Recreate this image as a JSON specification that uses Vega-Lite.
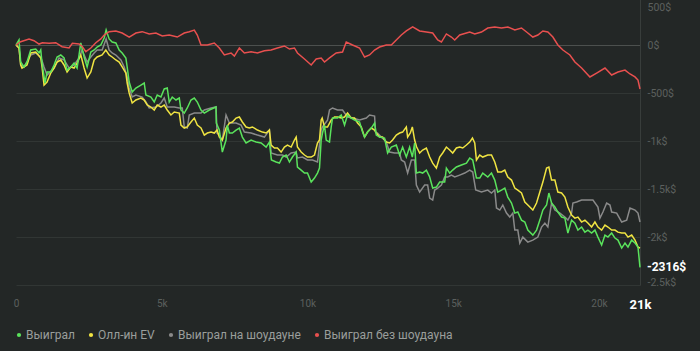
{
"$schema": "https://vega.github.io/schema/vega-lite/v6.json",
"width": 624, "height": 288,
"autosize": {"type": "none"},
"padding": {"left": 16, "top": -3, "right": 60, "bottom": 66},
"background": "#232726",
"config": {"view": {"stroke": null}, "font": "Roboto"},
"datasets": {
"green": [{"x":0,"v":0},{"x":103,"v":52},{"x":161,"v":-177},{"x":275,"v":-229},{"x":378,"v":-177},{"x":505,"v":-52},{"x":677,"v":-42},{"x":790,"v":-83},{"x":849,"v":-52},{"x":893,"v":-188},{"x":996,"v":-396},{"x":1065,"v":-281},{"x":1192,"v":-281},{"x":1306,"v":-208},{"x":1409,"v":-125},{"x":1536,"v":-104},{"x":1649,"v":-135},{"x":1752,"v":-261},{"x":1879,"v":-229},{"x":1993,"v":-188},{"x":2096,"v":-240},{"x":2223,"v":21},{"x":2336,"v":-125},{"x":2440,"v":-229},{"x":2567,"v":-73},{"x":2680,"v":-52},{"x":2783,"v":-21},{"x":2910,"v":0},{"x":3024,"v":73},{"x":3092,"v":156},{"x":3195,"v":63},{"x":3299,"v":31},{"x":3426,"v":21},{"x":3539,"v":-52},{"x":3642,"v":-83},{"x":3769,"v":-135},{"x":3814,"v":-229},{"x":3883,"v":-386},{"x":3986,"v":-490},{"x":4113,"v":-448},{"x":4285,"v":-417},{"x":4398,"v":-396},{"x":4456,"v":-521},{"x":4628,"v":-542},{"x":4742,"v":-594},{"x":4845,"v":-521},{"x":4972,"v":-542},{"x":5085,"v":-458},{"x":5188,"v":-448},{"x":5257,"v":-594},{"x":5360,"v":-542},{"x":5487,"v":-573},{"x":5601,"v":-552},{"x":5659,"v":-677},{"x":5772,"v":-709},{"x":5875,"v":-656},{"x":6003,"v":-573},{"x":6116,"v":-552},{"x":6219,"v":-594},{"x":6346,"v":-677},{"x":6460,"v":-709},{"x":6632,"v":-677},{"x":6862,"v":-646},{"x":6872,"v":-813},{"x":6975,"v":-886},{"x":7078,"v":-1115},{"x":7205,"v":-990},{"x":7250,"v":-834},{"x":7319,"v":-917},{"x":7422,"v":-917},{"x":7549,"v":-886},{"x":7662,"v":-865},{"x":7765,"v":-959},{"x":7892,"v":-1021},{"x":8064,"v":-990},{"x":8236,"v":-1011},{"x":8408,"v":-1021},{"x":8580,"v":-1063},{"x":8693,"v":-1011},{"x":8762,"v":-1198},{"x":8923,"v":-1219},{"x":9037,"v":-1230},{"x":9140,"v":-1167},{"x":9267,"v":-1146},{"x":9380,"v":-1219},{"x":9484,"v":-1167},{"x":9611,"v":-1115},{"x":9655,"v":-1271},{"x":9782,"v":-1303},{"x":9896,"v":-1334},{"x":9999,"v":-1334},{"x":10126,"v":-1428},{"x":10239,"v":-1386},{"x":10342,"v":-1334},{"x":10411,"v":-1282},{"x":10469,"v":-990},{"x":10514,"v":-917},{"x":10583,"v":-834},{"x":10641,"v":-990},{"x":10755,"v":-1011},{"x":10813,"v":-854},{"x":10858,"v":-761},{"x":11030,"v":-761},{"x":11157,"v":-729},{"x":11270,"v":-834},{"x":11373,"v":-729},{"x":11500,"v":-761},{"x":11614,"v":-782},{"x":11785,"v":-802},{"x":11889,"v":-907},{"x":11957,"v":-959},{"x":12060,"v":-907},{"x":12188,"v":-865},{"x":12301,"v":-813},{"x":12359,"v":-938},{"x":12473,"v":-959},{"x":12644,"v":-969},{"x":12748,"v":-1125},{"x":12875,"v":-1063},{"x":13046,"v":-1042},{"x":13160,"v":-1146},{"x":13263,"v":-1063},{"x":13390,"v":-1167},{"x":13503,"v":-1063},{"x":13596,"v":-1167},{"x":13675,"v":-1021},{"x":13734,"v":-1334},{"x":13847,"v":-1323},{"x":13950,"v":-1334},{"x":14077,"v":-1303},{"x":14191,"v":-1375},{"x":14294,"v":-1490},{"x":14421,"v":-1480},{"x":14534,"v":-1428},{"x":14706,"v":-1428},{"x":14764,"v":-1282},{"x":14878,"v":-1334},{"x":14981,"v":-1303},{"x":15108,"v":-1271},{"x":15280,"v":-1250},{"x":15452,"v":-1230},{"x":15565,"v":-1177},{"x":15668,"v":-1198},{"x":15795,"v":-1386},{"x":15909,"v":-1386},{"x":16012,"v":-1334},{"x":16184,"v":-1375},{"x":16311,"v":-1334},{"x":16424,"v":-1407},{"x":16527,"v":-1532},{"x":16654,"v":-1511},{"x":16768,"v":-1490},{"x":16871,"v":-1584},{"x":16998,"v":-1646},{"x":17111,"v":-1751},{"x":17214,"v":-1740},{"x":17341,"v":-1824},{"x":17455,"v":-1844},{"x":17558,"v":-1928},{"x":17730,"v":-1980},{"x":17857,"v":-1928},{"x":17970,"v":-1824},{"x":18074,"v":-1719},{"x":18201,"v":-1667},{"x":18280,"v":-1542},{"x":18372,"v":-1646},{"x":18486,"v":-1688},{"x":18589,"v":-1740},{"x":18716,"v":-1792},{"x":18829,"v":-1803},{"x":18932,"v":-1959},{"x":19059,"v":-1824},{"x":19173,"v":-1855},{"x":19276,"v":-1928},{"x":19403,"v":-1896},{"x":19516,"v":-1949},{"x":19619,"v":-1928},{"x":19746,"v":-1959},{"x":19860,"v":-1928},{"x":19963,"v":-2001},{"x":20090,"v":-2084},{"x":20204,"v":-1980},{"x":20307,"v":-2001},{"x":20434,"v":-1959},{"x":20547,"v":-2011},{"x":20650,"v":-2032},{"x":20778,"v":-2115},{"x":20891,"v":-2063},{"x":20994,"v":-2105},{"x":21121,"v":-2032},{"x":21234,"v":-2063},{"x":21337,"v":-2105},{"x":21406,"v":-2316}],
"yellow": [{"x":0,"v":0},{"x":103,"v":-31},{"x":161,"v":-208},{"x":206,"v":-240},{"x":378,"v":-208},{"x":505,"v":-83},{"x":677,"v":-73},{"x":849,"v":-135},{"x":893,"v":-229},{"x":962,"v":-417},{"x":1065,"v":-386},{"x":1192,"v":-292},{"x":1306,"v":-240},{"x":1409,"v":-177},{"x":1536,"v":-156},{"x":1649,"v":-208},{"x":1752,"v":-281},{"x":1879,"v":-229},{"x":1993,"v":-240},{"x":2096,"v":-188},{"x":2223,"v":-104},{"x":2336,"v":-240},{"x":2440,"v":-344},{"x":2567,"v":-281},{"x":2680,"v":-156},{"x":2783,"v":-125},{"x":2955,"v":-104},{"x":3082,"v":-52},{"x":3195,"v":-104},{"x":3299,"v":-125},{"x":3426,"v":-156},{"x":3539,"v":-177},{"x":3642,"v":-229},{"x":3769,"v":-292},{"x":3814,"v":-396},{"x":3883,"v":-500},{"x":3986,"v":-604},{"x":4113,"v":-573},{"x":4285,"v":-552},{"x":4398,"v":-573},{"x":4501,"v":-625},{"x":4628,"v":-646},{"x":4742,"v":-677},{"x":4845,"v":-625},{"x":4972,"v":-646},{"x":5085,"v":-625},{"x":5188,"v":-677},{"x":5315,"v":-729},{"x":5429,"v":-698},{"x":5601,"v":-709},{"x":5659,"v":-834},{"x":5772,"v":-865},{"x":5875,"v":-854},{"x":6003,"v":-802},{"x":6116,"v":-761},{"x":6219,"v":-834},{"x":6346,"v":-865},{"x":6460,"v":-938},{"x":6563,"v":-917},{"x":6690,"v":-907},{"x":6803,"v":-917},{"x":6896,"v":-886},{"x":6975,"v":-959},{"x":7078,"v":-990},{"x":7205,"v":-865},{"x":7319,"v":-813},{"x":7422,"v":-802},{"x":7549,"v":-761},{"x":7662,"v":-750},{"x":7765,"v":-802},{"x":7892,"v":-854},{"x":8006,"v":-865},{"x":8109,"v":-854},{"x":8281,"v":-886},{"x":8453,"v":-907},{"x":8580,"v":-917},{"x":8693,"v":-886},{"x":8751,"v":-1042},{"x":8865,"v":-1073},{"x":8968,"v":-1073},{"x":9095,"v":-1115},{"x":9208,"v":-1063},{"x":9312,"v":-1042},{"x":9439,"v":-1063},{"x":9552,"v":-990},{"x":9611,"v":-959},{"x":9655,"v":-1063},{"x":9782,"v":-1115},{"x":9896,"v":-1146},{"x":9999,"v":-1167},{"x":10126,"v":-1167},{"x":10239,"v":-1146},{"x":10342,"v":-1021},{"x":10411,"v":-990},{"x":10469,"v":-782},{"x":10504,"v":-761},{"x":10583,"v":-854},{"x":10686,"v":-854},{"x":10813,"v":-782},{"x":10926,"v":-750},{"x":11030,"v":-750},{"x":11157,"v":-761},{"x":11270,"v":-750},{"x":11373,"v":-709},{"x":11500,"v":-761},{"x":11614,"v":-761},{"x":11717,"v":-813},{"x":11844,"v":-854},{"x":11957,"v":-959},{"x":12060,"v":-907},{"x":12188,"v":-865},{"x":12301,"v":-886},{"x":12359,"v":-917},{"x":12473,"v":-959},{"x":12576,"v":-959},{"x":12703,"v":-1011},{"x":12816,"v":-1021},{"x":12919,"v":-990},{"x":13046,"v":-938},{"x":13160,"v":-917},{"x":13263,"v":-907},{"x":13390,"v":-854},{"x":13435,"v":-959},{"x":13527,"v":-917},{"x":13596,"v":-854},{"x":13675,"v":-990},{"x":13744,"v":-1063},{"x":13847,"v":-1125},{"x":13950,"v":-1094},{"x":14077,"v":-1073},{"x":14191,"v":-1167},{"x":14294,"v":-1230},{"x":14421,"v":-1282},{"x":14534,"v":-1167},{"x":14637,"v":-1125},{"x":14764,"v":-1063},{"x":14878,"v":-1094},{"x":14981,"v":-1125},{"x":15108,"v":-1073},{"x":15221,"v":-1063},{"x":15325,"v":-1073},{"x":15452,"v":-1042},{"x":15565,"v":-1011},{"x":15658,"v":-969},{"x":15737,"v":-1021},{"x":15795,"v":-1198},{"x":15909,"v":-1146},{"x":16012,"v":-1167},{"x":16184,"v":-1146},{"x":16311,"v":-1146},{"x":16424,"v":-1219},{"x":16527,"v":-1323},{"x":16654,"v":-1323},{"x":16768,"v":-1303},{"x":16871,"v":-1375},{"x":16998,"v":-1407},{"x":17111,"v":-1490},{"x":17214,"v":-1511},{"x":17341,"v":-1542},{"x":17455,"v":-1636},{"x":17558,"v":-1667},{"x":17730,"v":-1719},{"x":17857,"v":-1646},{"x":17970,"v":-1532},{"x":18074,"v":-1428},{"x":18201,"v":-1282},{"x":18280,"v":-1271},{"x":18372,"v":-1407},{"x":18486,"v":-1407},{"x":18589,"v":-1532},{"x":18716,"v":-1542},{"x":18829,"v":-1584},{"x":18932,"v":-1688},{"x":19059,"v":-1771},{"x":19173,"v":-1803},{"x":19276,"v":-1792},{"x":19403,"v":-1844},{"x":19516,"v":-1824},{"x":19619,"v":-1855},{"x":19746,"v":-1896},{"x":19860,"v":-1844},{"x":19963,"v":-1896},{"x":20090,"v":-1928},{"x":20204,"v":-1876},{"x":20307,"v":-1896},{"x":20434,"v":-1928},{"x":20547,"v":-1928},{"x":20650,"v":-1949},{"x":20778,"v":-1959},{"x":20891,"v":-1959},{"x":20994,"v":-2001},{"x":21121,"v":-1980},{"x":21234,"v":-2032},{"x":21337,"v":-2105},{"x":21406,"v":-2115}],
"gray": [{"x":0,"v":0},{"x":103,"v":-31},{"x":161,"v":-208},{"x":275,"v":-229},{"x":378,"v":-177},{"x":505,"v":-104},{"x":677,"v":-83},{"x":849,"v":-125},{"x":962,"v":-229},{"x":1065,"v":-313},{"x":1306,"v":-240},{"x":1477,"v":-135},{"x":1649,"v":-156},{"x":1821,"v":-240},{"x":1993,"v":-208},{"x":2165,"v":-135},{"x":2268,"v":-52},{"x":2440,"v":-177},{"x":2567,"v":-125},{"x":2680,"v":-83},{"x":2783,"v":-52},{"x":2955,"v":-52},{"x":3092,"v":63},{"x":3195,"v":-52},{"x":3299,"v":-83},{"x":3426,"v":-104},{"x":3598,"v":-156},{"x":3711,"v":-229},{"x":3814,"v":-333},{"x":3883,"v":-448},{"x":3986,"v":-542},{"x":4113,"v":-521},{"x":4329,"v":-542},{"x":4456,"v":-594},{"x":4570,"v":-656},{"x":4800,"v":-646},{"x":4972,"v":-604},{"x":5085,"v":-552},{"x":5188,"v":-646},{"x":5429,"v":-646},{"x":5601,"v":-656},{"x":5704,"v":-656},{"x":5772,"v":-854},{"x":5875,"v":-865},{"x":5944,"v":-729},{"x":6116,"v":-709},{"x":6346,"v":-709},{"x":6460,"v":-677},{"x":6690,"v":-656},{"x":6862,"v":-646},{"x":6896,"v":-917},{"x":6975,"v":-938},{"x":7078,"v":-990},{"x":7205,"v":-729},{"x":7319,"v":-813},{"x":7549,"v":-813},{"x":7721,"v":-834},{"x":7834,"v":-907},{"x":8064,"v":-917},{"x":8281,"v":-938},{"x":8521,"v":-959},{"x":8693,"v":-886},{"x":8751,"v":-1125},{"x":8968,"v":-1146},{"x":9140,"v":-1146},{"x":9267,"v":-1167},{"x":9439,"v":-1125},{"x":9611,"v":-1115},{"x":9655,"v":-1177},{"x":9827,"v":-1167},{"x":9999,"v":-1198},{"x":10171,"v":-1198},{"x":10342,"v":-1219},{"x":10411,"v":-1042},{"x":10469,"v":-886},{"x":10514,"v":-854},{"x":10686,"v":-782},{"x":10755,"v":-677},{"x":10858,"v":-656},{"x":11030,"v":-677},{"x":11202,"v":-677},{"x":11373,"v":-750},{"x":11545,"v":-761},{"x":11785,"v":-782},{"x":12016,"v":-761},{"x":12129,"v":-729},{"x":12301,"v":-740},{"x":12335,"v":-907},{"x":12404,"v":-917},{"x":12531,"v":-959},{"x":12703,"v":-1011},{"x":12816,"v":-1115},{"x":12988,"v":-1125},{"x":13160,"v":-1125},{"x":13218,"v":-1198},{"x":13332,"v":-1219},{"x":13435,"v":-1334},{"x":13562,"v":-1198},{"x":13675,"v":-1198},{"x":13734,"v":-1459},{"x":13847,"v":-1532},{"x":14019,"v":-1459},{"x":14122,"v":-1459},{"x":14191,"v":-1594},{"x":14294,"v":-1615},{"x":14362,"v":-1511},{"x":14466,"v":-1490},{"x":14593,"v":-1459},{"x":14706,"v":-1375},{"x":14809,"v":-1375},{"x":14936,"v":-1355},{"x":15050,"v":-1375},{"x":15221,"v":-1355},{"x":15393,"v":-1334},{"x":15565,"v":-1303},{"x":15668,"v":-1323},{"x":15771,"v":-1511},{"x":15967,"v":-1532},{"x":16184,"v":-1511},{"x":16311,"v":-1542},{"x":16424,"v":-1511},{"x":16483,"v":-1698},{"x":16596,"v":-1719},{"x":16699,"v":-1667},{"x":16826,"v":-1751},{"x":16939,"v":-1792},{"x":17043,"v":-1751},{"x":17111,"v":-1928},{"x":17214,"v":-1928},{"x":17283,"v":-2063},{"x":17386,"v":-2001},{"x":17558,"v":-2053},{"x":17730,"v":-2032},{"x":17902,"v":-2001},{"x":18029,"v":-1896},{"x":18142,"v":-1855},{"x":18245,"v":-1896},{"x":18372,"v":-1646},{"x":18486,"v":-1719},{"x":18658,"v":-1751},{"x":18829,"v":-1792},{"x":18932,"v":-1824},{"x":19059,"v":-1751},{"x":19104,"v":-1646},{"x":19231,"v":-1636},{"x":19403,"v":-1615},{"x":19619,"v":-1615},{"x":19791,"v":-1615},{"x":19963,"v":-1688},{"x":20032,"v":-1803},{"x":20135,"v":-1740},{"x":20262,"v":-1646},{"x":20376,"v":-1667},{"x":20434,"v":-1740},{"x":20606,"v":-1751},{"x":20778,"v":-1844},{"x":20949,"v":-1824},{"x":21063,"v":-1698},{"x":21234,"v":-1719},{"x":21337,"v":-1751},{"x":21406,"v":-1844}],
"red": [{"x":0,"v":0},{"x":161,"v":34},{"x":447,"v":63},{"x":618,"v":45},{"x":790,"v":10},{"x":906,"v":24},{"x":1134,"v":18},{"x":1364,"v":24},{"x":1581,"v":-18},{"x":1821,"v":-31},{"x":1934,"v":18},{"x":2165,"v":10},{"x":2278,"v":-18},{"x":2395,"v":-70},{"x":2567,"v":-31},{"x":2738,"v":24},{"x":2910,"v":63},{"x":3024,"v":104},{"x":3195,"v":139},{"x":3426,"v":146},{"x":3642,"v":125},{"x":3883,"v":83},{"x":4113,"v":125},{"x":4329,"v":139},{"x":4570,"v":115},{"x":4800,"v":125},{"x":5017,"v":94},{"x":5257,"v":104},{"x":5532,"v":83},{"x":5772,"v":125},{"x":5944,"v":139},{"x":6116,"v":156},{"x":6219,"v":104},{"x":6346,"v":0},{"x":6563,"v":0},{"x":6803,"v":21},{"x":6975,"v":-31},{"x":7147,"v":-104},{"x":7377,"v":-83},{"x":7491,"v":-115},{"x":7662,"v":-31},{"x":7834,"v":-83},{"x":8064,"v":-70},{"x":8281,"v":-83},{"x":8521,"v":-59},{"x":8751,"v":-52},{"x":8968,"v":-31},{"x":9208,"v":-10},{"x":9380,"v":-42},{"x":9552,"v":-31},{"x":9655,"v":-83},{"x":9896,"v":-146},{"x":10126,"v":-208},{"x":10298,"v":-146},{"x":10469,"v":-135},{"x":10583,"v":-177},{"x":10755,"v":-135},{"x":10985,"v":-83},{"x":11202,"v":-73},{"x":11329,"v":31},{"x":11545,"v":0},{"x":11785,"v":-31},{"x":11957,"v":-125},{"x":12129,"v":-104},{"x":12301,"v":-52},{"x":12473,"v":-21},{"x":12703,"v":0},{"x":12875,"v":0},{"x":13046,"v":52},{"x":13218,"v":104},{"x":13390,"v":146},{"x":13607,"v":188},{"x":13847,"v":146},{"x":14077,"v":135},{"x":14294,"v":125},{"x":14466,"v":52},{"x":14593,"v":31},{"x":14764,"v":115},{"x":14936,"v":83},{"x":15050,"v":52},{"x":15221,"v":104},{"x":15452,"v":125},{"x":15565,"v":135},{"x":15737,"v":115},{"x":15967,"v":135},{"x":16184,"v":177},{"x":16424,"v":188},{"x":16654,"v":177},{"x":16871,"v":188},{"x":17111,"v":156},{"x":17341,"v":177},{"x":17558,"v":125},{"x":17730,"v":83},{"x":17902,"v":104},{"x":18074,"v":146},{"x":18245,"v":135},{"x":18417,"v":83},{"x":18589,"v":0},{"x":18761,"v":-52},{"x":19001,"v":-104},{"x":19173,"v":-177},{"x":19403,"v":-240},{"x":19688,"v":-333},{"x":19918,"v":-292},{"x":20204,"v":-240},{"x":20434,"v":-313},{"x":20650,"v":-281},{"x":20891,"v":-261},{"x":21063,"v":-302},{"x":21234,"v":-333},{"x":21337,"v":-365},{"x":21406,"v":-458}],
"last": [{"x":21406,"v":-2316,"label":"-2316$"}]
},
"layer": [
{"mark": {"type": "rule", "color": "#383d3b", "strokeWidth": 1},
 "encoding": {"x": {"datum": 0, "type": "quantitative"}}},
{"data": {"name": "gray"},
 "mark": {"type": "line", "strokeWidth": 1.5},
 "encoding": {
  "x": {"field": "x", "type": "quantitative",
        "scale": {"domain": [0, 21406], "nice": false, "zero": false},
        "axis": {"values": [0, 5000, 10000, 15000, 20000, 21406],
                 "labelExpr": "datum.value == 0 ? '0' : datum.value > 21000 ? '21k' : (datum.value / 1000) + 'k'",
                 "grid": false, "domain": false, "ticks": false, "title": null,
                 "labelPadding": 13, "labelFlush": false, "labelOverlap": false,
                 "labelFont": "Roboto",
                 "labelColor": {"condition": {"test": "datum.value > 21000", "value": "#ffffff"}, "value": "#5c605e"},
                 "labelFontWeight": {"condition": {"test": "datum.value > 21000", "value": "bold"}, "value": "normal"},
                 "labelFontSize": {"condition": {"test": "datum.value > 21000", "value": 13}, "value": 10}}},
  "y": {"field": "v", "type": "quantitative",
        "scale": {"domain": [-2500, 500], "nice": false, "zero": false},
        "axis": {"orient": "right", "values": [-2500, -2000, -1500, -1000, -500, 0, 500],
                 "labelExpr": "datum.value == 0 ? '0$' : abs(datum.value) >= 1000 ? (datum.value / 1000) + 'k$' : datum.value + '$'",
                 "grid": true,
                 "gridColor": {"condition": {"test": "datum.value == 0", "value": "#4c504e"}, "value": "#313634"},
                 "domain": true, "domainColor": "#383d3b", "ticks": false, "title": null,
                 "labelPadding": 7, "labelColor": "#5c605e", "labelFontSize": 10.5, "labelFont": "Roboto",
                 "labelFlush": false, "labelOverlap": false, "labelBound": false,
                 "labelOffset": {"condition": [{"test": "datum.value == 500", "value": 10}, {"test": "datum.value == -2500", "value": -3}], "value": 0}}},
  "color": {"datum": "Выиграл на шоудауне", "type": "nominal",
            "scale": {"domain": ["Выиграл", "Олл-ин EV", "Выиграл на шоудауне", "Выиграл без шоудауна"],
                      "range": ["#5ae35c", "#f0e442", "#8a8a8a", "#e8504f"]},
            "legend": {"orient": "none", "legendX": -3, "legendY": 332, "direction": "horizontal",
                       "title": null, "symbolType": "circle", "symbolSize": 18, "symbolStrokeWidth": 0,
                       "labelColor": "#9a9e9c", "labelFontSize": 12, "labelFont": "Roboto",
                       "columnPadding": 10, "labelOffset": 1, "padding": 0,
                       "encode": {"symbols": {"update": {"fill": {"scale": "color", "field": "value"}, "stroke": {"value": "transparent"}}}}}}
 }},
{"data": {"name": "yellow"},
 "mark": {"type": "line", "strokeWidth": 1.5},
 "encoding": {"x": {"field": "x", "type": "quantitative"}, "y": {"field": "v", "type": "quantitative"},
              "color": {"datum": "Олл-ин EV", "type": "nominal"}}},
{"data": {"name": "green"},
 "mark": {"type": "line", "strokeWidth": 1.5},
 "encoding": {"x": {"field": "x", "type": "quantitative"}, "y": {"field": "v", "type": "quantitative"},
              "color": {"datum": "Выиграл", "type": "nominal"}}},
{"data": {"name": "red"},
 "mark": {"type": "line", "strokeWidth": 1.5},
 "encoding": {"x": {"field": "x", "type": "quantitative"}, "y": {"field": "v", "type": "quantitative"},
              "color": {"datum": "Выиграл без шоудауна", "type": "nominal"}}},
{"data": {"name": "last"},
 "mark": {"type": "text", "align": "left", "baseline": "middle", "dx": 7, "font": "Roboto", "fontSize": 12, "fontWeight": "bold", "color": "#ffffff"},
 "encoding": {"x": {"field": "x", "type": "quantitative"}, "y": {"field": "v", "type": "quantitative"}, "text": {"field": "label"}}}
]
}
